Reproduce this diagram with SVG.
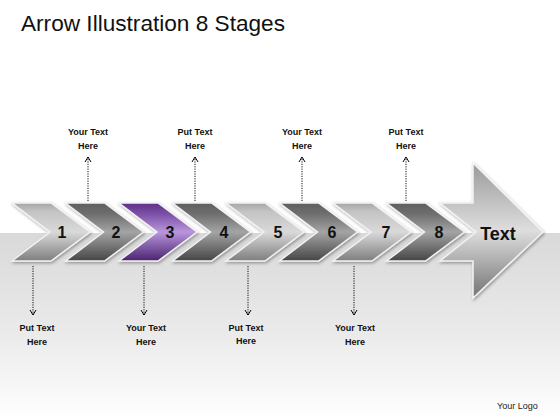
<svg xmlns="http://www.w3.org/2000/svg" xmlns:xlink="http://www.w3.org/1999/xlink" width="560" height="420" viewBox="0 0 560 420">
<defs>
<linearGradient id="bg" x1="0" y1="0" x2="0" y2="1">
<stop offset="0" stop-color="#d9d9d9"/><stop offset="0.55" stop-color="#ebebeb"/><stop offset="1" stop-color="#ffffff"/>
</linearGradient>
<linearGradient id="light" x1="0" y1="0" x2="0" y2="1">
<stop offset="0" stop-color="#a6a6a6"/><stop offset="0.15" stop-color="#c4c4c4"/><stop offset="0.5" stop-color="#d9d9d9"/><stop offset="1" stop-color="#7e7e7e"/>
</linearGradient>
<linearGradient id="dark" x1="0" y1="0" x2="0" y2="1">
<stop offset="0" stop-color="#5e5e5e"/><stop offset="0.2" stop-color="#707070"/><stop offset="0.5" stop-color="#a4a4a4"/><stop offset="1" stop-color="#454545"/>
</linearGradient>
<linearGradient id="purple" x1="0" y1="0" x2="0" y2="1">
<stop offset="0" stop-color="#5f3189"/><stop offset="0.2" stop-color="#7d52a8"/><stop offset="0.5" stop-color="#b896dc"/><stop offset="1" stop-color="#4a2270"/>
</linearGradient>
<linearGradient id="big" x1="0" y1="0" x2="0" y2="1">
<stop offset="0" stop-color="#9a9a9a"/><stop offset="0.5" stop-color="#dedede"/><stop offset="1" stop-color="#747474"/>
</linearGradient>
<filter id="sh" x="-20%" y="-20%" width="140%" height="140%">
<feDropShadow dx="1" dy="1.5" stdDeviation="1.5" flood-color="#000" flood-opacity="0.35"/>
</filter>
<path id="chev" d="M0,203 L39,203 L78,232 L39,261 L0,261 L38,232 Z"/>
<marker id="ah" markerWidth="8" markerHeight="8" refX="6" refY="4" orient="auto" markerUnits="userSpaceOnUse">
<path d="M1,1 L6,4 L1,7" fill="none" stroke="#000" stroke-width="1"/>
</marker>
<style>
.c{stroke:#f2f2f2;stroke-width:1.5;filter:url(#sh)}
.n{font-family:"Liberation Sans",Arial,sans-serif;font-weight:bold;font-size:16px;fill:#111;text-anchor:middle}
.l{font-family:"Liberation Sans",Arial,sans-serif;font-weight:bold;font-size:9px;fill:#111;text-anchor:middle}
.k{fill:none;stroke:#111;stroke-width:1;stroke-dasharray:1.2 1.2;marker-end:url(#ah)}
</style>
</defs>
<rect width="560" height="420" fill="#fff"/>
<rect x="0" y="233" width="560" height="187" fill="url(#bg)"/>
<text x="21" y="31" font-family="Liberation Sans,Arial,sans-serif" font-size="22" fill="#111" textLength="264" lengthAdjust="spacingAndGlyphs">Arrow Illustration 8 Stages</text>

<g id="stage1"><use xlink:href="#chev" x="12" class="c" fill="url(#light)"/><text class="n" x="62" y="238">1</text></g>
<g id="stage2"><use xlink:href="#chev" x="65.5" class="c" fill="url(#dark)"/><text class="n" x="116" y="238">2</text></g>
<g id="stage3"><use xlink:href="#chev" x="119" class="c" fill="url(#purple)"/><text class="n" x="170" y="238">3</text></g>
<g id="stage4"><use xlink:href="#chev" x="172.5" class="c" fill="url(#dark)"/><text class="n" x="224" y="238">4</text></g>
<g id="stage5"><use xlink:href="#chev" x="226" class="c" fill="url(#light)"/><text class="n" x="278" y="238">5</text></g>
<g id="stage6"><use xlink:href="#chev" x="279.5" class="c" fill="url(#dark)"/><text class="n" x="332" y="238">6</text></g>
<g id="stage7"><use xlink:href="#chev" x="333" class="c" fill="url(#light)"/><text class="n" x="386" y="238">7</text></g>
<g id="stage8"><use xlink:href="#chev" x="386.5" class="c" fill="url(#dark)"/><text class="n" x="439" y="238">8</text></g>
<g id="final"><path class="c" fill="url(#big)" d="M440,203 L473,203 L473,163 L543,232 L473,298 L473,261 L440,261 L476,232 Z"/><text x="498" y="240" font-family="Liberation Sans,Arial,sans-serif" font-weight="bold" font-size="18" fill="#111" text-anchor="middle">Text</text></g>

<g id="connectors">
<path class="k" d="M88,201 V157"/>
<path class="k" d="M195,201 V157"/>
<path class="k" d="M302,201 V157"/>
<path class="k" d="M406,201 V157"/>
<path class="k" d="M33,266 V315"/>
<path class="k" d="M144,266 V315"/>
<path class="k" d="M248,266 V315"/>
<path class="k" d="M354,266 V315"/>
</g>

<g id="label2"><text class="l" x="88" y="135">Your Text</text><text class="l" x="88" y="149">Here</text></g>
<g id="label4"><text class="l" x="195" y="135">Put Text</text><text class="l" x="195" y="149">Here</text></g>
<g id="label6"><text class="l" x="302" y="135">Your Text</text><text class="l" x="302" y="149">Here</text></g>
<g id="label8"><text class="l" x="406" y="135">Put Text</text><text class="l" x="406" y="149">Here</text></g>
<g id="label1"><text class="l" x="37" y="331">Put Text</text><text class="l" x="37" y="345">Here</text></g>
<g id="label3"><text class="l" x="146" y="331">Your Text</text><text class="l" x="146" y="345">Here</text></g>
<g id="label5"><text class="l" x="246" y="331">Put Text</text><text class="l" x="246" y="344">Here</text></g>
<g id="label7"><text class="l" x="355" y="331">Your Text</text><text class="l" x="355" y="345">Here</text></g>
<text x="497" y="409" font-family="Liberation Sans,Arial,sans-serif" font-size="9" fill="#222">Your Logo</text>
</svg>
